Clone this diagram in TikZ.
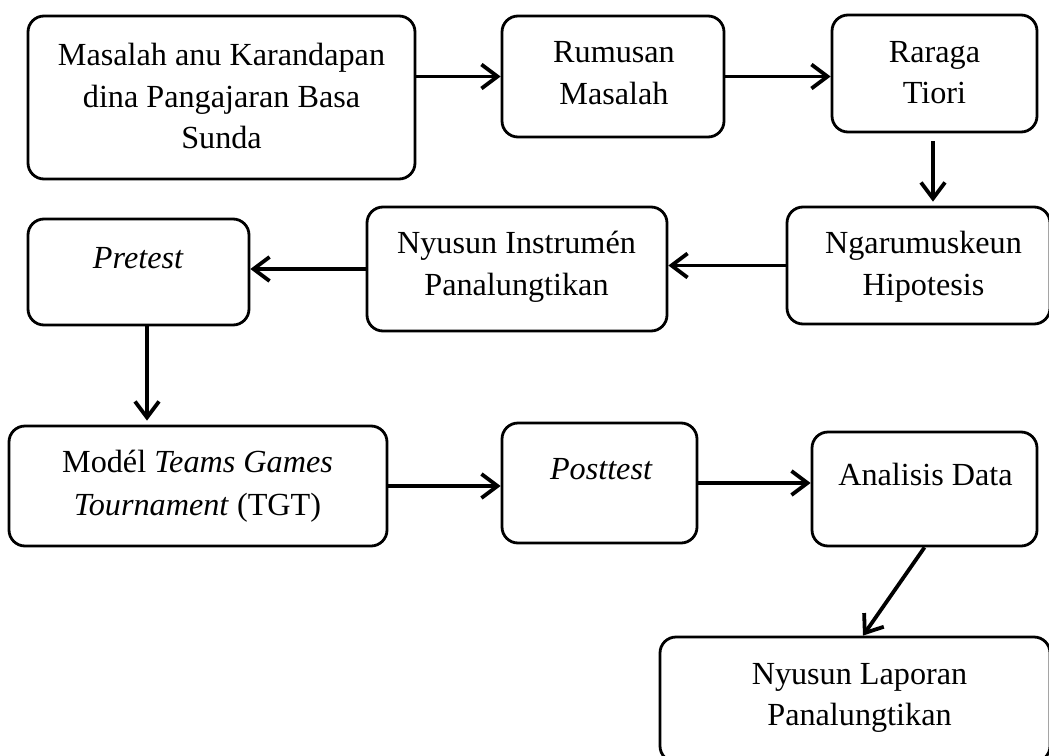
\documentclass[tikz,border=0pt]{standalone}
\usepackage{fontspec}
\setmainfont{Liberation Serif}
\usetikzlibrary{arrows.meta,calc}
\tikzset{
  box/.style={draw, line width=1.4pt, rounded corners=8pt, inner sep=0pt, fill=white},
  txt/.style={anchor=base, inner sep=0pt, font=\fontsize{16.1pt}{21pt}\selectfont},
  conn/.style={line width=1.9pt, -{Straight Barb[length=8pt,width=12pt,line width=1.9pt]}}
}
\begin{document}
\begin{tikzpicture}[x=0.5pt,y=-0.5pt]
\useasboundingbox (0,0) rectangle (1049,755);
% boxes
\node[box, minimum width=193.5pt, minimum height=81.5pt] (b1) at (221.5,97.5) {};
\node[box, minimum width=111pt, minimum height=60.5pt] (ru) at (613,76.5) {};
\node[box, minimum width=102.5pt, minimum height=58.5pt] (ra) at (934.5,73.5) {};
\node[box, minimum width=131.5pt, minimum height=58.5pt] (ng) at (918.5,265.5) {};
\node[box, minimum width=150pt, minimum height=62pt] (ny) at (517,269) {};
\node[box, minimum width=110.5pt, minimum height=53pt] (pr) at (138.5,272) {};
\node[box, minimum width=189pt, minimum height=60pt] (mo) at (198,486) {};
\node[box, minimum width=97.5pt, minimum height=60pt] (po) at (599.5,483) {};
\node[box, minimum width=112.5pt, minimum height=57pt] (an) at (924.5,489) {};
\node[box, minimum width=195pt, minimum height=62.5pt] (la) at (855,699.5) {};
% texts
\node[txt] (t1a) at (221.5,65.5) {Masalah anu Karandapan};
\node[txt] (t1b) at (221.5,107) {dina Pangajaran Basa};
\node[txt] (t1c) at (221.5,148.5) {Sunda};
\node[txt] (t2a) at (614,62) {Rumusan};
\node[txt] (t2b) at (614,104) {Masalah};
\node[txt] (t3a) at (934.5,62) {Raraga};
\node[txt] (t3b) at (934.5,103) {Tiori};
\node[txt] (t4a) at (923.5,253) {Ngarumuskeun};
\node[txt] (t4b) at (923.5,295) {Hipotesis};
\node[txt] (t5a) at (516.5,253) {Nyusun Instrumén};
\node[txt] (t5b) at (516.5,295) {Panalungtikan};
\node[txt] (t6) at (138,268) {\itshape Pretest};
\node[txt] (t7a) at (197.5,472) {Modél \textit{Teams Games}};
\node[txt] (t7b) at (197.5,515) {\textit{Tournament} (TGT)};
\node[txt] (t8) at (601,479) {\itshape Posttest};
\node[txt] (t9) at (925.5,485) {Analisis Data};
\node[txt] (t10a) at (859.5,684) {Nyusun Laporan};
\node[txt] (t10b) at (859.5,725) {Panalungtikan};
% connectors
\draw[conn] (b1.east |- ru.west) -- (ru.west);
\draw[conn] (ru.east) -- (ra.west |- ru.east);
\draw[conn, shorten <=4pt, shorten >=2pt] ($(ra.south)+(-1.5,0)$) -- ($(ra.south |- ng.north)+(-1.5,0)$);
\draw[conn] (ng.west) -- (ny.east |- ng.west);
\draw[conn] (ny.west) -- (pr.east |- ny.west);
\draw[conn, shorten >=2pt] ($(pr.south)+(8.5,0)$) -- ($(pr.south |- mo.north)+(8.5,0)$);
\draw[conn] (mo.east) -- (po.west |- mo.east);
\draw[conn] (po.east) -- (an.west |- po.east);
\draw[conn] (an.south) -- ($(la.north)+(8,0)$);
\end{tikzpicture}
\end{document}
